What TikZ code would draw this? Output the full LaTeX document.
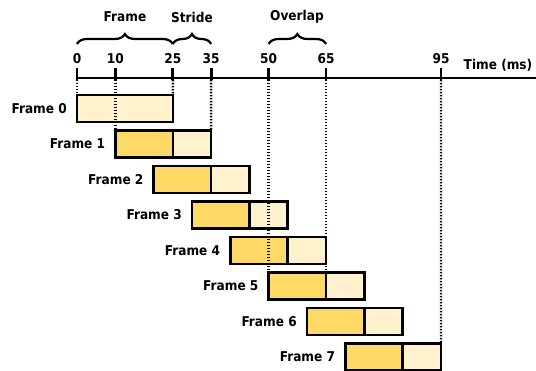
\documentclass[tikz,border=0pt]{standalone}
\usepackage{fontspec}
\setmainfont{DejaVu Sans Condensed}
\usetikzlibrary{decorations.pathreplacing,calc}
\definecolor{darkY}{HTML}{FFD966}
\definecolor{lightY}{HTML}{FFF2CC}
\begin{document}
\begin{tikzpicture}[x=1pt,y=-1pt,
  lab/.style={font=\bfseries\fontsize{13.5}{15}\selectfont, inner sep=0pt},
  framebox/.style={fill=lightY, minimum width=95.8pt, minimum height=27pt, inner sep=0pt, outer sep=0pt, anchor=north west},
  border/.style={line width=2.6pt},
  dots/.style={line width=2.4pt, dash pattern=on 1.5pt off 1.5pt},
  tickmark/.style={fill=black, minimum width=2.8pt, minimum height=12pt, inner sep=0pt, outer sep=0pt},
  bracedec/.style={decorate, decoration={brace, amplitude=10pt}, line width=2.2pt}]
\useasboundingbox (0,0) rectangle (536,371);
% axis
\coordinate (axL) at (77,78);
\coordinate (axR) at (536,78);
\draw[line width=2.2pt] (axL) -- (axR);
\foreach \t in {0,10,25,35,50,65,95}{
  \node[tickmark] (tk\t) at ({77+3.832*\t},74) {};
  \node[lab] (l\t) at ({77+3.832*\t},59) {\t};
}
\node[lab] (tm) at (498,65) {Time (ms)};
% frames
\foreach \i in {0,...,7}{
  \node[framebox] (f\i) at ({77+38.32*\i},{95+35.5*\i}) {};
  \ifnum\i>0
    \fill[darkY] (f\i.north west) rectangle ($(f\i.south west)+(57.48,0)$);
    \draw[border] ($(f\i.north west)+(57.48,0)$) -- ($(f\i.south west)+(57.48,0)$);
  \fi
  \draw[border] (f\i.north west) rectangle (f\i.south east);
  \node[lab, anchor=east] (n\i) at ($(f\i.west)+(-10,0)$) {Frame \i};
}
% dotted guides
\draw[dots] (tk0.south) -- (f0.north west);
\draw[dots] (tk10.south) -- (tk10 |- f1.north);
\draw[dots] (tk25.south) -- (f0.north east);
\draw[dots] (tk35.south) -- (f1.north east);
\draw[dots] (tk50.south) -- (f5.north west);
\draw[dots] (tk65.south) -- (tk65 |- f5.north);
\draw[dots] (tk95.south) -- (f7.north east);
% braces
\draw[bracedec] (tk0 |- 0,44) -- (tk25 |- 0,44);
\draw[bracedec] (tk25 |- 0,44) -- (tk35 |- 0,44);
\draw[bracedec] (tk50 |- 0,44) -- (tk65 |- 0,44);
\node[lab] (bF) at (125,17) {Frame};
\node[lab] (bS) at (192,17) {Stride};
\node[lab] (bO) at (297,17) {Overlap};
\end{tikzpicture}
\end{document}
